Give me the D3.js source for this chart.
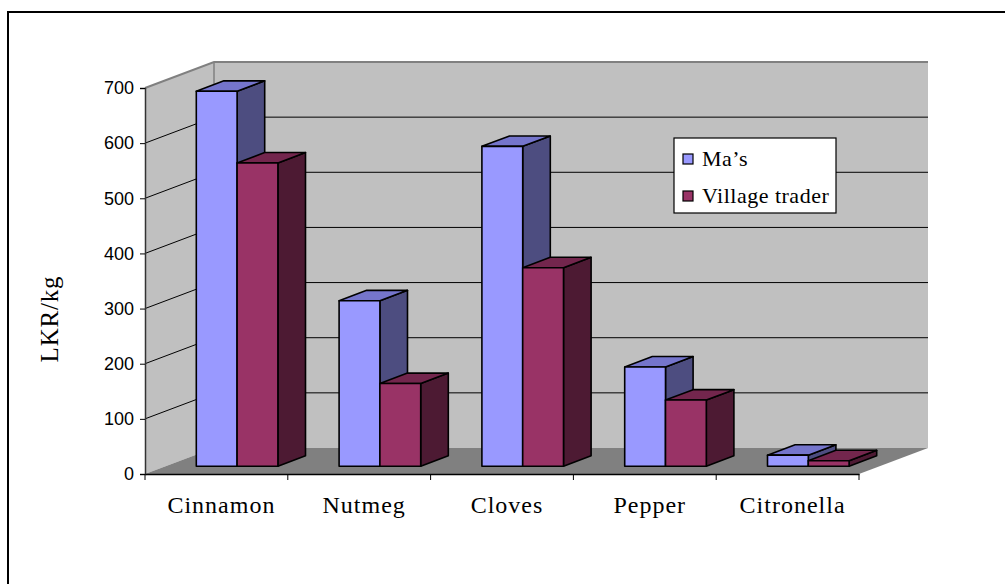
<!DOCTYPE html>
<html>
<head>
<meta charset="utf-8">
<script src="https://cdn.jsdelivr.net/npm/d3@7"></script>
<style>
  body { margin: 0; background: #fff; }
  svg { display: block; }
</style>
</head>
<body>
<svg id="chart" width="1005" height="584"></svg>
<script>
// Spice prices, LKR per kg
const categories = ["Cinnamon", "Nutmeg", "Cloves", "Pepper", "Citronella"];
const seriesNames = ["Ma’s", "Village trader"];
const masValues = [680, 300, 580, 180, 20];
const traderValues = [550, 150, 360, 120, 10];
const yTicks = [0, 100, 200, 300, 400, 500, 600, 700];
const yTitle = "LKR/kg";

const seriesValues = [masValues, traderValues];
const palette = [
  { front: "#9999ff", top: "#7575cc", side: "#4d4d80" },
  { front: "#993366", top: "#73264d", side: "#4d1a33" }
];

const svg = d3.select("#chart");
const serif = "'Liberation Serif', 'Times New Roman', serif";
const sans = "'Liberation Sans', Arial, sans-serif";

// Front plane of the 3-D box and its depth vector
const left = 145, right = 859, base = 474, topY = 88;
const depthX = 69, depthY = -26;

const y = d3.scaleLinear().domain([0, 700]).range([base, topY]);
const x = d3.scaleBand().domain(categories).range([left, right]);
const inner = d3.scaleBand().domain(seriesNames)
  .range([0, x.bandwidth()]).paddingInner(0).paddingOuter(0.75);

// Outer frame
svg.append("line").attr("x1", 8).attr("y1", 12).attr("x2", 1010).attr("y2", 12)
  .attr("stroke", "#000").attr("stroke-width", 2);
svg.append("line").attr("x1", 8).attr("y1", 11).attr("x2", 8).attr("y2", 590)
  .attr("stroke", "#000").attr("stroke-width", 2);

const pts = a => a.map(p => p.join(",")).join(" ");
const v0 = y(0), vMax = y(700);

// Walls and floor
svg.append("polygon")
  .attr("points", pts([[left + depthX, vMax + depthY], [right + depthX, vMax + depthY],
                       [right + depthX, v0 + depthY], [left + depthX, v0 + depthY]]))
  .attr("fill", "#c0c0c0");
svg.append("polygon")
  .attr("points", pts([[left, v0], [left, vMax], [left + depthX, vMax + depthY], [left + depthX, v0 + depthY]]))
  .attr("fill", "#c0c0c0");
svg.append("polygon")
  .attr("points", pts([[left, v0], [right, v0], [right + depthX, v0 + depthY], [left + depthX, v0 + depthY]]))
  .attr("fill", "#808080");

// Gridlines across the left wall and the back wall
const grid = yTicks.filter(t => t > 0 && t < 700);
grid.forEach(t => {
  svg.append("polyline")
    .attr("points", pts([[left, y(t)], [left + depthX, y(t) + depthY], [right + depthX, y(t) + depthY]]))
    .attr("fill", "none").attr("stroke", "#000").attr("stroke-width", 1);
});

// Wall edges
svg.append("polyline")
  .attr("points", pts([[left, vMax], [left + depthX, vMax + depthY], [right + depthX, vMax + depthY]]))
  .attr("fill", "none").attr("stroke", "#808080").attr("stroke-width", 2);
svg.append("line")
  .attr("x1", left + depthX).attr("y1", vMax + depthY)
  .attr("x2", left + depthX).attr("y2", v0 + depthY)
  .attr("stroke", "#808080").attr("stroke-width", 1.5);

// Value axis
const yAxis = svg.append("g").attr("transform", `translate(${left},0)`)
  .call(d3.axisLeft(y).tickValues(yTicks).tickSize(5).tickPadding(6));
yAxis.select(".domain").attr("stroke", "#333").attr("stroke-width", 1.5);
yAxis.selectAll(".tick line").attr("stroke", "#000");
yAxis.selectAll("text").attr("font-family", sans).attr("font-size", 18).attr("fill", "#000");

// Category axis
const xAxis = svg.append("g").attr("transform", `translate(0,${base})`)
  .call(d3.axisBottom(x).tickSize(0).tickFormat(""));
xAxis.select(".domain").attr("stroke", "#000").attr("stroke-width", 1.5);
const boundaries = categories.map(c => x(c)).concat([right]);
svg.selectAll(".xtick").data(boundaries).enter().append("line")
  .attr("x1", d => d).attr("x2", d => d)
  .attr("y1", base).attr("y2", base + 6)
  .attr("stroke", "#000").attr("stroke-width", 1);

svg.selectAll(".catlabel").data(categories).enter().append("text")
  .attr("x", d => x(d) + x.bandwidth() / 2 + 5)
  .attr("y", 513)
  .attr("text-anchor", "middle")
  .attr("font-family", serif).attr("font-size", 24)
  .attr("letter-spacing", 1)
  .text(d => d);

// Axis title
svg.append("text")
  .attr("transform", "translate(58,319) rotate(-90)")
  .attr("text-anchor", "middle")
  .attr("font-family", serif).attr("font-size", 25)
  .attr("letter-spacing", 0.8)
  .text(yTitle);

// 3-D bars: sit between 30% and 70% of the box depth
const dStart = 0.3, dLen = 0.4;
const ox = depthX * dStart, oy = depthY * dStart;
const bdx = depthX * dLen, bdy = depthY * dLen;
const bw = inner.bandwidth();

const bars = svg.append("g");
categories.forEach((cat, i) => {
  seriesNames.forEach((s, k) => {
    const val = seriesValues[k][i];
    const x0 = x(cat) + inner(s) + ox, x1 = x0 + bw;
    const yt = y(val) + oy, yb = y(0) + oy;
    const c = palette[k];
    const g = bars.append("g")
      .attr("stroke", "#000").attr("stroke-width", 1.6).attr("stroke-linejoin", "round");
    g.append("polygon")
      .attr("points", pts([[x1, yt], [x1 + bdx, yt + bdy], [x1 + bdx, yb + bdy], [x1, yb]]))
      .attr("fill", c.side);
    g.append("polygon")
      .attr("points", pts([[x0, yt], [x1, yt], [x1 + bdx, yt + bdy], [x0 + bdx, yt + bdy]]))
      .attr("fill", c.top);
    g.append("rect")
      .attr("x", x0).attr("y", yt).attr("width", bw).attr("height", yb - yt)
      .attr("fill", c.front);
  });
});

// Legend
const legend = svg.append("g");
legend.append("rect")
  .attr("x", 674).attr("y", 138).attr("width", 162).attr("height", 75)
  .attr("fill", "#fff").attr("stroke", "#000").attr("stroke-width", 1.2);
seriesNames.forEach((s, k) => {
  const cy = 159 + k * 37;
  legend.append("rect")
    .attr("x", 683).attr("y", cy - 5).attr("width", 10).attr("height", 10)
    .attr("fill", palette[k].front).attr("stroke", "#000").attr("stroke-width", 1.2);
  legend.append("text")
    .attr("x", 702).attr("y", cy + 7)
    .attr("font-family", serif).attr("font-size", 22)
    .attr("letter-spacing", 0.5)
    .text(s);
});
</script>
</body>
</html>
